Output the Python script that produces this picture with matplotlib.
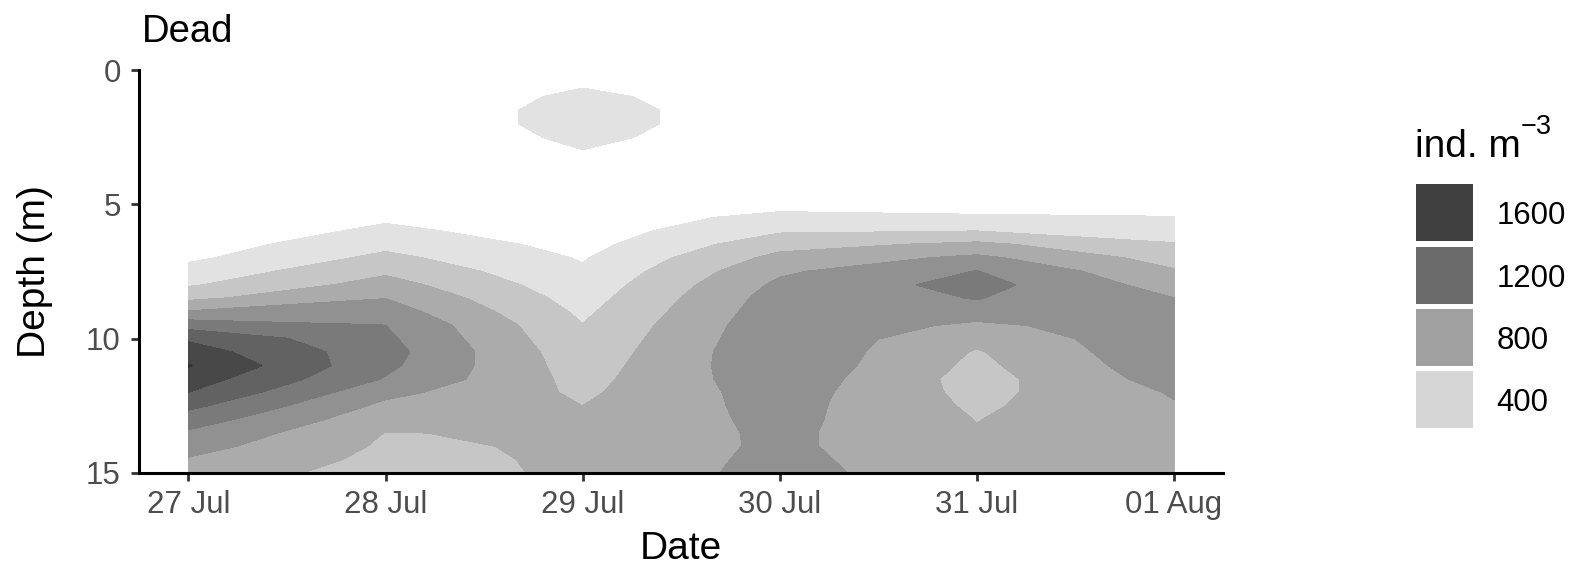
import numpy as np
import matplotlib
matplotlib.use('Agg')
import matplotlib.pyplot as plt
import matplotlib.dates as mdates
from matplotlib.patches import Rectangle

plt.rcParams['font.family'] = ['Liberation Sans', 'DejaVu Sans']

# ---------------- data ----------------
dates = ['2019-07-27', '2019-07-28', '2019-07-29', '2019-07-30', '2019-07-31', '2019-08-01']
date_labels = ['27 Jul', '28 Jul', '29 Jul', '30 Jul', '31 Jul', '01 Aug']
depths = np.arange(0, 15.01, 0.5)   # 0, 0.5, ... 15 m

# ind. m^-3 at each depth (0..15 m every 0.5 m), one list per date
v_27jul = [0, 3, 6, 9, 12, 15, 18, 21, 24, 27, 30, 47, 65, 100, 161, 272, 375, 555, 811, 1110,
           1367, 1492, 1610, 1500, 1395, 1244, 1096, 968, 872, 781, 700]
v_28jul = [0, 0, 0, 0, 0, 2, 5, 22, 40, 80, 120, 169, 238, 342, 449, 562, 678, 795, 897, 998,
           1036, 1073, 1042, 984, 853, 750, 667, 595, 572, 548, 525]
v_29jul = [100, 170, 250, 295, 295, 250, 195, 150, 120, 105, 98, 97, 103, 135, 184, 226, 271, 316, 361, 404,
           436, 468, 500, 532, 564, 599, 612, 618, 622, 626, 630]
v_30jul = [30, 40, 50, 50, 50, 55, 60, 70, 85, 105, 130, 252, 375, 525, 657, 767, 839, 888, 914, 940,
           955, 967, 958, 933, 897, 874, 859, 845, 842, 858, 873]
v_31jul = [20, 25, 30, 35, 40, 45, 50, 65, 80, 100, 140, 218, 398, 643, 844, 1005, 1070, 1006, 885, 761,
           646, 582, 552, 521, 540, 567, 594, 612, 627, 643, 658]
v_01aug = [20, 25, 30, 35, 40, 45, 50, 60, 75, 95, 130, 206, 309, 413, 517, 619, 711, 802, 856, 911,
           953, 953, 923, 882, 815, 786, 769, 752, 734, 717, 700]

levels = [200, 400, 600, 800, 1000, 1200, 1400, 1600, 1800]
band_colors = ['#e2e2e2', '#c6c6c6', '#ababab', '#919191', '#7a7a7a', '#626262', '#484848', '#353535']

legend_values = [1600, 1200, 800, 400]
legend_colors = ['#404040', '#6b6b6b', '#a0a0a0', '#d6d6d6']

# ---------------- figure ----------------
W, H = 1570, 565
fig = plt.figure(figsize=(W / 100, H / 100), dpi=100)

x = mdates.datestr2num(dates)
Z = np.column_stack([v_27jul, v_28jul, v_29jul, v_30jul, v_31jul, v_01aug])

left_px, right_px, top_px, bot_px = 139.2, 1223.2, 70.0, 473.0
ax = fig.add_axes([left_px / W, 1 - bot_px / H, (right_px - left_px) / W, (bot_px - top_px) / H])

cs = ax.contourf(x, depths, Z, levels=levels, colors=band_colors)
cs.set_edgecolor('face')
cs.set_linewidth(0.6)

ax.set_xlim(x[0] - 0.25, x[-1] + 0.25)
ax.set_ylim(15, 0)
ax.set_xticks(x)
ax.set_xticklabels(date_labels)
ax.set_yticks([0, 5, 10, 15])
ax.set_yticklabels(['0', '5', '10', '15'])

for s in ['top', 'right']:
    ax.spines[s].set_visible(False)
for s in ['left', 'bottom']:
    ax.spines[s].set_linewidth(2.2)
    ax.spines[s].set_color('black')
    ax.spines[s].set_capstyle('projecting')

ax.tick_params(axis='both', which='major', length=5.8, width=2.0, color='#333333',
               labelcolor='#4d4d4d', labelsize=22.5)
ax.tick_params(axis='x', pad=6.5)
ax.tick_params(axis='y', pad=7.5)

ax.set_xlabel('Date', fontsize=28, color='black', labelpad=8)
ax.set_ylabel('Depth (m)', fontsize=28, color='black', labelpad=24)

fig.text(left_px / W + 0.0015, 1 - 42 / H, 'Dead', fontsize=27.5, ha='left', va='baseline', color='black')

# ---------------- legend ----------------
lax = fig.add_axes([0, 0, 1, 1], facecolor='none')
lax.set_xlim(0, W)
lax.set_ylim(H, 0)
lax.axis('off')
lax.text(1415, 156.7, 'ind. m', fontsize=28, ha='left', va='baseline', color='black')
lax.text(1521, 133.5, '\u22123', fontsize=19.5, ha='left', va='baseline', color='black')
key_top = 184.3
pitch = 62.3
for i, (val, col) in enumerate(zip(legend_values, legend_colors)):
    y0 = key_top + i * pitch
    lax.add_patch(Rectangle((1416, y0), 57, 57, facecolor=col, edgecolor='none'))
    lax.text(1496.5, y0 + 28.5, str(val), fontsize=22.4, ha='left', va='center_baseline', color='black')

fig.savefig('out.png', dpi=100)
